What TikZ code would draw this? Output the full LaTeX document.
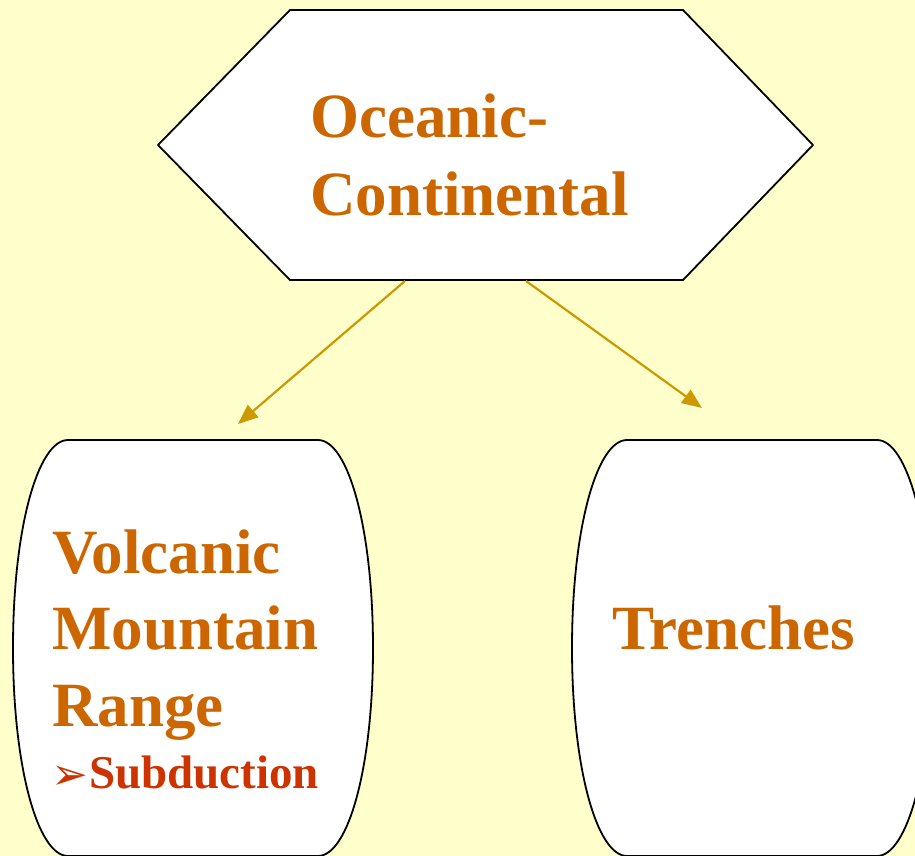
\documentclass[tikz,border=0pt]{standalone}
\usepackage{fontspec}
\setmainfont{Liberation Serif}
\newfontfamily\symfont{DejaVu Sans}
\usetikzlibrary{arrows.meta}
\definecolor{bgyellow}{HTML}{FFFFCC}
\definecolor{txtorange}{HTML}{CC6600}
\definecolor{txtred}{HTML}{CC3300}
\definecolor{arrgold}{HTML}{CC9900}
\tikzset{
  shapeline/.style={draw=black, line width=1.8pt, fill=white, line join=round},
  bigtext/.style={text=txtorange, font=\fontsize{63}{76}\bfseries\selectfont, anchor=base west, inner sep=0pt},
  subtext/.style={text=txtred, font=\fontsize{47}{56}\bfseries\selectfont, anchor=base west, inner sep=0pt},
  conn/.style={draw=arrgold, line width=2.2pt, -{Triangle[length=20pt,width=16pt]}},
}
\newcommand{\barrelpath}{%
  (-125,440) -- (125,440) .. controls (155,440) and (180,528) .. (180,648)
  .. controls (180,768) and (155,856) .. (125,856) -- (-125,856)
  .. controls (-155,856) and (-180,768) .. (-180,648)
  .. controls (-180,528) and (-155,440) .. (-125,440) -- cycle}
\begin{document}
\begin{tikzpicture}[x=1pt,y=-1pt]
\useasboundingbox (0,0) rectangle (915,856);
\clip (0,0) rectangle (915,856);
\fill[bgyellow] (0,0) rectangle (915,856);
% hexagon
\draw[shapeline] (290,10) -- (683,10) -- (813,145) -- (683,280) -- (290,280) -- (158,145) -- cycle;
\node[bigtext] (oc1) at (310,138) {Oceanic-};
\node[bigtext] (oc2) at (310,215) {Continental};
% left box (center x = 193)
\begin{scope}[xshift=193pt]
\draw[shapeline] \barrelpath;
\end{scope}
\node[bigtext] (vol) at (52,573) {Volcanic};
\node[bigtext] (mou) at (52,649) {Mountain};
\node[bigtext] (ran) at (52,726) {Range};
\node[subtext, font=\fontsize{44}{50}\symfont\selectfont] (bul) at (51,789) {➢};
\node[subtext] (sub) at (89,788) {Subduction};
% right box (center x = 752)
\begin{scope}[xshift=752pt]
\draw[shapeline] \barrelpath;
\end{scope}
\node[bigtext] (tre) at (612,649) {Trenches};
% connectors
\coordinate (hl) at (405,281);
\coordinate (hr) at (526,281);
\coordinate (tl) at (238,424);
\coordinate (tr) at (702,408);
\draw[conn] (hl) -- (tl);
\draw[conn] (hr) -- (tr);
\end{tikzpicture}
\end{document}
